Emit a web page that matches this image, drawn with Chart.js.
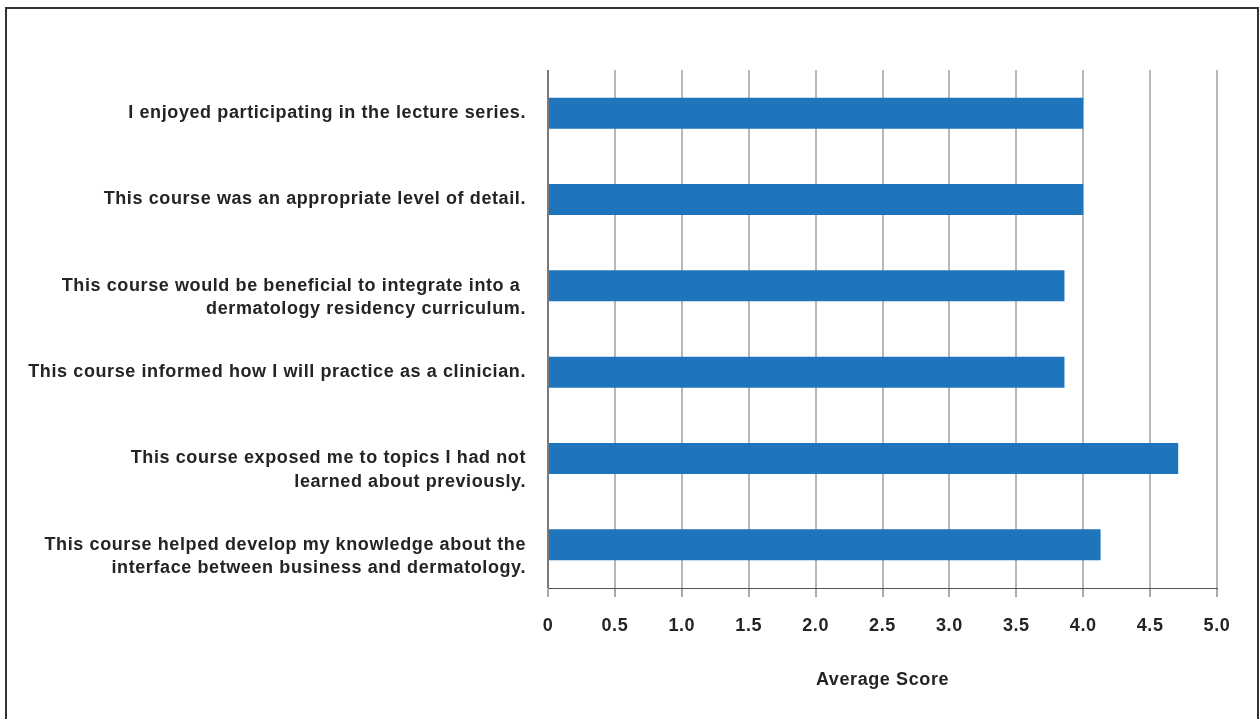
<!DOCTYPE html>
<html>
<head>
<meta charset="utf-8">
<script src="https://cdn.jsdelivr.net/npm/chart.js@4.4.1/dist/chart.umd.min.js"></script>
<style>
  html, body { margin: 0; padding: 0; background: #ffffff; overflow: hidden; }
  #frame { position: absolute; left: 5px; top: 7px; width: 1254px; height: 800px; box-sizing: border-box; border: 2px solid #333333; }
  #wrap { position: absolute; left: 0; top: 0; width: 1259px; height: 719px; }
</style>
</head>
<body>
<div id="frame"></div>
<div id="wrap"><canvas id="c" width="1259" height="719"></canvas></div>
<script>
const categories = [
  "I enjoyed participating in the lecture series.",
  "This course was an appropriate level of detail.",
  ["This course would be beneficial to integrate into a ", "dermatology residency curriculum."],
  "This course informed how I will practice as a clinician.",
  ["This course exposed me to topics I had not", "learned about previously."],
  ["This course helped develop my knowledge about the", "interface between business and dermatology."]
];
const averageScores = [4.0, 4.0, 3.86, 3.86, 4.71, 4.13];
const xTickLabels = ["0", "0.5", "1.0", "1.5", "2.0", "2.5", "3.0", "3.5", "4.0", "4.5", "5.0"];
const axisTitle = "Average Score";

const FONT = "'Liberation Sans', Arial, sans-serif";
const TEXT = "#262324";

// Multi-line labels: first line sits at the bar centre, following lines below it.
const displayLabels = categories.map(c => Array.isArray(c) ? [''].concat(c) : c);

const letterSpacingPlugin = {
  id: 'letterSpacing',
  beforeDraw(chart) { chart.ctx.letterSpacing = '0.6px'; }
};

new Chart(document.getElementById('c'), {
  type: 'bar',
  data: {
    labels: displayLabels,
    datasets: [{
      data: averageScores,
      backgroundColor: '#1e75bb',
      borderWidth: 0,
      categoryPercentage: 1.0,
      barPercentage: 0.36
    }]
  },
  plugins: [letterSpacingPlugin],
  options: {
    indexAxis: 'y',
    responsive: false,
    animation: false,
    devicePixelRatio: 1,
    layout: { padding: { left: 0, top: 70, right: 42, bottom: 0 } },
    plugins: { legend: { display: false }, tooltip: { enabled: false } },
    scales: {
      x: {
        min: 0, max: 5,
        afterFit: (s) => { s.height = 131; },
        afterBuildTicks: (s) => { s.ticks = xTickLabels.map(t => ({ value: parseFloat(t) })); },
        ticks: {
          callback: (v, i) => xTickLabels[i],
          color: TEXT,
          font: { family: FONT, size: 18, weight: 'bold' },
          padding: 18,
          maxRotation: 0,
          autoSkip: false
        },
        grid: {
          color: (ctx) => (ctx.tick && ctx.tick.value === 0) ? '#7a7a7a' : '#b8b8b8',
          lineWidth: 2,
          drawTicks: true,
          tickLength: 9,
          tickColor: '#555555',
          tickWidth: 1
        },
        border: { display: true, color: '#555555', width: 1 },
        title: {
          display: true,
          text: axisTitle,
          color: TEXT,
          font: { family: FONT, size: 18, weight: 'bold' },
          padding: { top: 0, bottom: 28 }
        }
      },
      y: {
        afterFit: (s) => { s.width = 548; },
        ticks: {
          color: TEXT,
          font: { family: FONT, size: 18, weight: 'bold', lineHeight: 1.3 },
          padding: 22,
          autoSkip: false
        },
        grid: { display: false, drawTicks: false },
        border: { display: false }
      }
    }
  }
});
</script>
</body>
</html>
